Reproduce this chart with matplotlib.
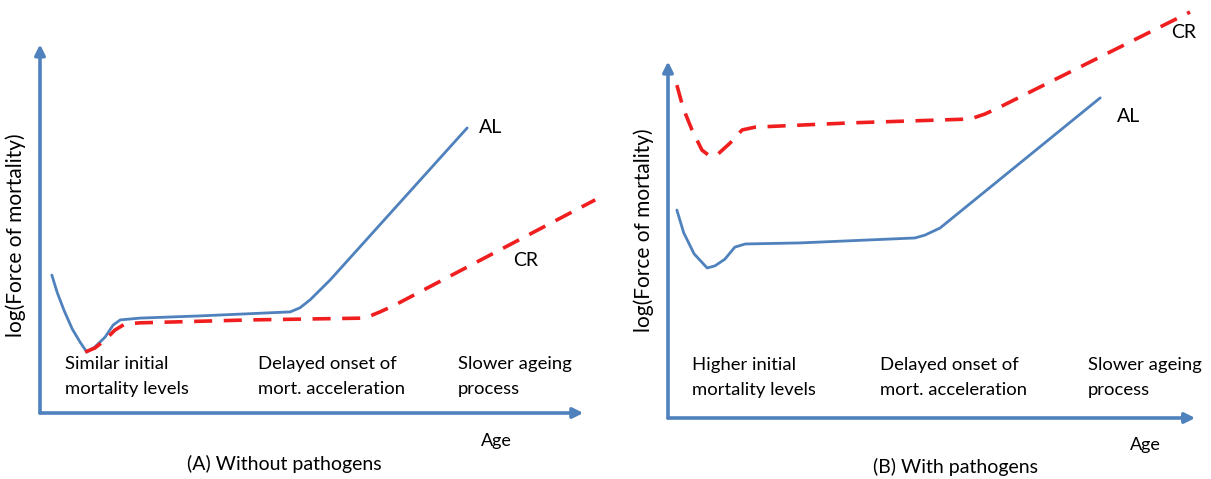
import matplotlib
matplotlib.use("Agg")
import matplotlib.pyplot as plt

plt.rcParams["font.family"] = ["Lato", "DejaVu Sans"]

BLUE = "#4F81BD"
RED = "#F01E1E"

# Panel A: without pathogens (age units 0-100, log mortality 0-100)
a_al_age = [2.2, 3.2, 4.5, 6.0, 7.5, 8.7, 10.2, 12.1, 13.6, 14.9, 18.6, 29.7, 46.5, 48.3, 50.2, 53.9, 79.4]
a_al_val = [37.8, 33.0, 28.0, 23.0, 19.3, 16.7, 18.1, 20.8, 24.1, 25.5, 26.0, 26.6, 27.7, 28.8, 31.0, 36.4, 78.1]
a_cr_age = [8.4, 10.2, 12.1, 13.9, 15.8, 18.6, 39.0, 60.4, 63.2, 66.0, 103.2]
a_cr_val = [16.7, 17.8, 20.0, 22.7, 24.4, 24.7, 25.5, 26.0, 27.7, 29.6, 58.4]

# Panel B: with pathogens
b_al_age = [1.7, 3.0, 5.0, 7.5, 9.0, 10.9, 12.8, 14.8, 25.3, 47.3, 49.2, 52.1, 82.8]
b_al_val = [58.9, 52.5, 46.5, 42.5, 43.1, 45.0, 48.4, 49.3, 49.6, 51.0, 51.8, 53.8, 90.7]
b_cr_age = [1.7, 2.9, 4.6, 6.5, 8.0, 9.6, 11.9, 14.2, 16.7, 34.9, 57.9, 60.7, 63.6, 100.0]
b_cr_val = [94.3, 87.8, 81.6, 75.9, 74.2, 74.8, 77.9, 81.6, 82.4, 83.6, 84.7, 86.1, 88.1, 115.0]

a_notes = ["Similar initial\nmortality levels", "Delayed onset of\nmort. acceleration", "Slower ageing\nprocess"]
b_notes = ["Higher initial\nmortality levels", "Delayed onset of\nmort. acceleration", "Slower ageing\nprocess"]
a_note_x = [4.6, 40.5, 77.7]
b_note_x = [4.6, 40.6, 80.5]

W, H = 1211, 479
fig = plt.figure(figsize=(W / 100, H / 100), dpi=100)


def panel(px0, py0, px1, py1, al, cr, notes, note_x, note_y, al_pos, cr_pos, title, title_x, age_x, ylab_y):
    # px0/py0 = axis origin in pixels, px1/py1 = arrow tips
    ax = fig.add_axes([px0 / W, (H - py0) / H, (px1 - px0) / W, (py0 - py1) / H])
    ax.set_xlim(0, 100)
    ax.set_ylim(0, 100)
    ax.axis("off")

    arrow = dict(arrowstyle="-|>,head_length=0.6,head_width=0.3", color=BLUE, lw=2.6,
                 shrinkA=0, shrinkB=0)
    ax.annotate("", xy=(101, 0), xytext=(0, 0), arrowprops=arrow, annotation_clip=False)
    ax.annotate("", xy=(0, 101), xytext=(0, 0), arrowprops=arrow, annotation_clip=False)

    ax.plot(al[0], al[1], color=BLUE, lw=2.0, clip_on=False, solid_capstyle="round",
            solid_joinstyle="round")
    ax.plot(cr[0], cr[1], color=RED, lw=2.6, ls=(0, (5, 3.2)), clip_on=False)

    ax.text(al_pos[0], al_pos[1], "AL", fontsize=14, va="center", ha="left")
    ax.text(cr_pos[0], cr_pos[1], "CR", fontsize=14, va="center", ha="left")

    for t, x in zip(notes, note_x):
        ax.text(x, note_y, t, fontsize=13.3, va="top", ha="left", linespacing=1.7)

    ax.text(age_x, -7.6, "Age", fontsize=13, ha="center", va="center")
    ax.text(title_x, -14.0, title, fontsize=14, ha="center", va="center")
    ax.text(-4.6, ylab_y, "log(Force of mortality)", fontsize=15, rotation=90,
            ha="center", va="center")
    return ax


panel(40, 413, 578, 48, (a_al_age, a_al_val), (a_cr_age, a_cr_val), a_notes, a_note_x, 15.6,
      (81.6, 78.1), (88.0, 41.9), "(A) Without pathogens", 45.5, 84.8, 48.8)
panel(668, 418, 1190, 65, (b_al_age, b_al_val), (b_cr_age, b_cr_val), b_notes, b_note_x, 17.4,
      (86.0, 85.3), (96.3, 109.3), "(B) With pathogens", 55.0, 91.4, 53.3)

fig.savefig("out.png", dpi=100, facecolor="white")
